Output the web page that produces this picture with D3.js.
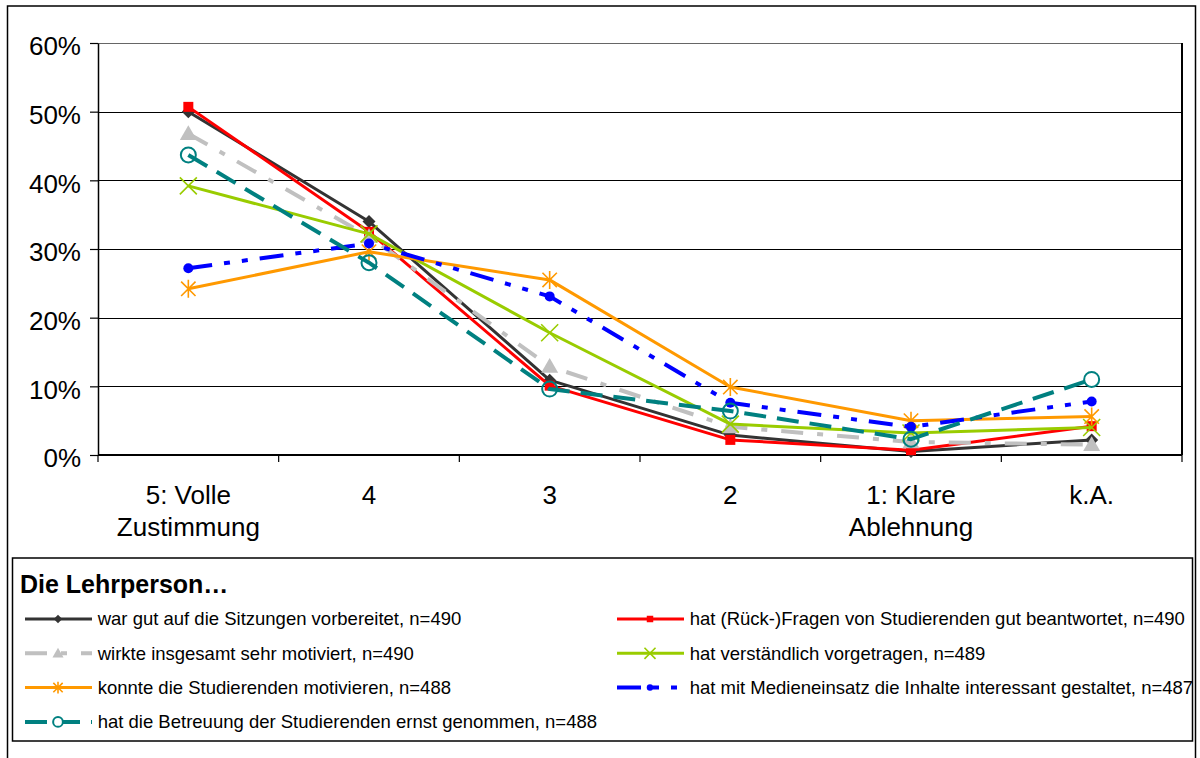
<!DOCTYPE html>
<html>
<head>
<meta charset="utf-8">
<script src="https://cdn.jsdelivr.net/npm/d3@7"></script>
<style>
	body { margin: 0; background: #fff; }
	svg { display: block; font-family: Arial, "Liberation Sans", sans-serif; }
</style>
</head>
<body>
<div id="chart"></div>
<script>
// answer categories (| marks a line break in the label)
var categories = ["5: Volle|Zustimmung", "4", "3", "2", "1: Klare|Ablehnung", "k.A."];
var yTicks = [0, 10, 20, 30, 40, 50, 60];
var legendTitle = "Die Lehrperson\u2026";

// share of answers in percent, one array per item
var vorbereitet = [50.0, 34.0, 10.9, 2.9, 0.5, 2.2];
var beantwortet = [50.7, 32.5, 10.1, 2.2, 0.7, 4.2];
var motiviert = [46.8, 31.8, 12.9, 4.1, 1.9, 1.5];
var vorgetragen = [39.2, 32.2, 17.8, 4.5, 3.2, 4.0];
var motivieren = [24.2, 29.6, 25.5, 9.9, 5.0, 5.6];
var medien = [27.2, 30.8, 23.1, 7.6, 4.1, 7.8];
var betreuung = [43.7, 28.0, 9.6, 6.4, 2.3, 11.0];

var seriesNames = [
	"war gut auf die Sitzungen vorbereitet, n=490",
	"hat (R\u00fcck-)Fragen von Studierenden gut beantwortet, n=490",
	"wirkte insgesamt sehr motiviert, n=490",
	"hat verst\u00e4ndlich vorgetragen, n=489",
	"konnte die Studierenden motivieren, n=488",
	"hat mit Medieneinsatz die Inhalte interessant gestaltet, n=487",
	"hat die Betreuung der Studierenden ernst genommen, n=488"
];

// table for drawing, built from the arrays above
var series = [
	{name: seriesNames[0], values: vorbereitet, color: '#333333', marker: 'diamond', dash: null, width: 3},
	{name: seriesNames[1], values: beantwortet, color: '#ff0000', marker: 'square', dash: null, width: 3},
	{name: seriesNames[2], values: motiviert, color: '#c0c0c0', marker: 'triangle', dash: '22,14,6,14', width: 4},
	{name: seriesNames[3], values: vorgetragen, color: '#99cc00', marker: 'x', dash: null, width: 3},
	{name: seriesNames[4], values: motivieren, color: '#ff9900', marker: 'star', dash: null, width: 3},
	{name: seriesNames[5], values: medien, color: '#0000ff', marker: 'dot', dash: '24,12,6,12,6,12', width: 4},
	{name: seriesNames[6], values: betreuung, color: '#008080', marker: 'circle', dash: '22,11', width: 4}
];

var fullWidth = 1200;
var fullHeight = 758;
var plot = {left: 98, right: 1182, top: 43, bottom: 455};

var svg = d3.select('#chart')
	.append('svg')
	.attr('width', fullWidth)
	.attr('height', fullHeight);

// outer chart frame
svg.append('rect')
	.attr('x', 7.5).attr('y', 6)
	.attr('width', 1188).attr('height', 770)
	.attr('fill', '#fff')
	.attr('stroke', '#000')
	.attr('stroke-width', 1.5);

var x = d3.scaleBand()
	.domain(categories)
	.range([plot.left, plot.right]);
var y = d3.scaleLinear()
	.domain([0, 60])
	.range([plot.bottom, plot.top]);
var cx = function(i) { return x(categories[i]) + x.bandwidth() / 2; };

// gridlines
svg.append('g')
	.selectAll('line')
	.data(yTicks.slice(1))
	.join('line')
	.attr('x1', plot.left).attr('x2', plot.right)
	.attr('y1', function(d) { return Math.round(y(d)) + 0.5; })
	.attr('y2', function(d) { return Math.round(y(d)) + 0.5; })
	.attr('stroke', function(d) { return d === 60 ? '#666' : '#000'; })
	.attr('stroke-width', 1.2);

// right border of plot area
svg.append('line')
	.attr('x1', plot.right).attr('x2', plot.right)
	.attr('y1', plot.top).attr('y2', plot.bottom)
	.attr('stroke', '#000').attr('stroke-width', 2);

// y axis
var yAxis = d3.axisLeft(y)
	.tickValues(yTicks)
	.tickFormat(function(d) { return d + '%'; })
	.tickSize(8)
	.tickSizeOuter(0)
	.tickPadding(9);
var gy = svg.append('g')
	.attr('transform', 'translate(' + plot.left + ',0)')
	.call(yAxis);
gy.select('.domain').attr('stroke-width', 1.5);
gy.selectAll('.tick line').attr('stroke-width', 1.2);
gy.selectAll('.tick text')
	.attr('font-size', 26)
	.attr('font-family', 'Arial, "Liberation Sans", sans-serif')
	.attr('fill', '#000')
	.attr('dy', '0.46em');

// x axis: line, ticks between categories, two-line labels
svg.append('line')
	.attr('x1', plot.left).attr('x2', plot.right)
	.attr('y1', plot.bottom).attr('y2', plot.bottom)
	.attr('stroke', '#000').attr('stroke-width', 2);
var bounds = categories.map(function(c) { return x(c); }).concat([x.range()[1]]);
svg.append('g')
	.selectAll('line')
	.data(bounds)
	.join('line')
	.attr('x1', function(d) { return d; }).attr('x2', function(d) { return d; })
	.attr('y1', plot.bottom).attr('y2', plot.bottom + 7)
	.attr('stroke', '#000').attr('stroke-width', 1.2);
var xl = svg.append('g')
	.selectAll('text')
	.data(categories)
	.join('text')
	.attr('x', function(d, i) { return cx(i); })
	.attr('y', 504)
	.attr('text-anchor', 'middle')
	.attr('font-size', 26);
xl.selectAll('tspan')
	.data(function(d) { return d.split('|'); })
	.join('tspan')
	.attr('x', function() { return d3.select(this.parentNode).attr('x'); })
	.attr('dy', function(d, i) { return i ? 32 : 0; })
	.text(function(d) { return d; });

// marker shapes, r is half the size
function markerPath(type, r) {
	if (type === 'diamond') return 'M0,' + (-r) + 'L' + r + ',0L0,' + r + 'L' + (-r) + ',0Z';
	if (type === 'square') return 'M' + (-r) + ',' + (-r) + 'h' + (2 * r) + 'v' + (2 * r) + 'h' + (-2 * r) + 'Z';
	if (type === 'triangle') return 'M0,' + (-r) + 'L' + r + ',' + (r * 0.75) + 'L' + (-r) + ',' + (r * 0.75) + 'Z';
	if (type === 'x') return 'M' + (-r) + ',' + (-r) + 'L' + r + ',' + r + 'M' + (-r) + ',' + r + 'L' + r + ',' + (-r);
	if (type === 'star') {
		var k = r * 0.8;
		return 'M' + (-k) + ',' + (-k) + 'L' + k + ',' + k + 'M' + (-k) + ',' + k + 'L' + k + ',' + (-k) +
			'M0,' + (-r) + 'L0,' + r;
	}
	var c = d3.path();
	c.arc(0, 0, r, 0, 2 * Math.PI);
	return c.toString();
}
var markerSize = {diamond: 6.5, square: 5, triangle: 8.5, x: 8.5, star: 9, circle: 7.5, dot: 5};

function drawMarker(g, s, scale, fillCircle) {
	var r = markerSize[s.marker] * scale;
	var m = g.append('path').attr('d', markerPath(s.marker, r));
	if (s.marker === 'x' || s.marker === 'star') {
		m.attr('fill', 'none').attr('stroke', s.color).attr('stroke-width', 1.6);
	} else if (s.marker === 'circle') {
		m.attr('fill', fillCircle).attr('stroke', s.color).attr('stroke-width', 2);
	} else {
		m.attr('fill', s.color);
	}
	return m;
}

// series lines and markers
var line = d3.line()
	.x(function(d, i) { return cx(i); })
	.y(function(d) { return y(d); });

series.forEach(function(s) {
	var g = svg.append('g');
	g.append('path')
		.attr('d', line(s.values))
		.attr('fill', 'none')
		.attr('stroke', s.color)
		.attr('stroke-width', s.width)
		.attr('stroke-dasharray', s.dash)
		.attr('stroke-linejoin', 'round');
	s.values.forEach(function(v, i) {
		var mg = g.append('g').attr('transform', 'translate(' + cx(i) + ',' + y(v) + ')');
		drawMarker(mg, s, 1, 'none');
	});
});

// legend
var lg = svg.append('g');
lg.append('rect')
	.attr('x', 12.5).attr('y', 558)
	.attr('width', 1180).attr('height', 183)
	.attr('fill', '#fff')
	.attr('stroke', '#000')
	.attr('stroke-width', 1.5);
lg.append('text')
	.attr('x', 20).attr('y', 593)
	.attr('font-size', 25)
	.attr('font-weight', 'bold')
	.text(legendTitle);

var colX = [25, 617];
series.forEach(function(s, i) {
	var lx = colX[i % 2];
	var ly = 619 + Math.floor(i / 2) * 34.3;
	var item = lg.append('g').attr('transform', 'translate(' + lx + ',' + ly + ')');
	item.append('line')
		.attr('x1', 0).attr('x2', 67)
		.attr('y1', 0).attr('y2', 0)
		.attr('stroke', s.color)
		.attr('stroke-width', s.width)
		.attr('stroke-dasharray', s.dash);
	drawMarker(item.append('g').attr('transform', 'translate(33,0)'), s, 0.65, '#fff');
	item.append('text')
		.attr('x', 72.7).attr('y', 0)
		.attr('dy', '0.35em')
		.attr('font-size', 18.5)
		.text(s.name);
});
</script>
</body>
</html>
